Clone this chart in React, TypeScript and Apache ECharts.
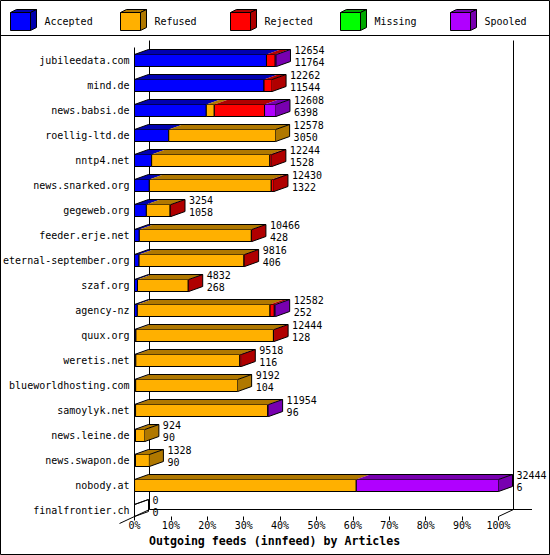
import React, { useEffect, useRef } from "react";
import * as echarts from "echarts";

const hosts = [
  "jubileedata.com", "mind.de", "news.babsi.de", "roellig-ltd.de", "nntp4.net",
  "news.snarked.org", "gegeweb.org", "feeder.erje.net", "eternal-september.org", "szaf.org",
  "agency-nz", "quux.org", "weretis.net", "blueworldhosting.com", "samoylyk.net",
  "news.leine.de", "news.swapon.de", "nobody.at", "finalfrontier.ch",
];
const offered = [12654, 12262, 12608, 12578, 12244, 12430, 3254, 10466, 9816, 4832, 12582, 12444, 9518, 9192, 11954, 924, 1328, 32444, 0];
const accepted = [11764, 11544, 6398, 3050, 1528, 1322, 1058, 428, 406, 268, 252, 128, 116, 104, 96, 90, 90, 6, 0];
const refused = [0, 0, 713, 9528, 10536, 10868, 2116, 9988, 9350, 4524, 11827, 12256, 9272, 9088, 11778, 834, 1238, 19760, 0];
const rejected = [780, 718, 4481, 0, 180, 240, 80, 50, 60, 40, 383, 60, 130, 0, 0, 0, 0, 0, 0];
const missing = [0, 0, 0, 0, 0, 0, 0, 0, 0, 0, 0, 0, 0, 0, 0, 0, 0, 0, 0];
const spooled = [110, 0, 1016, 0, 0, 0, 0, 0, 0, 0, 120, 0, 0, 0, 80, 0, 0, 12678, 0];

const seriesNames = ["Accepted", "Refused", "Rejected", "Missing", "Spooled"];
const frontColors = ["#0000ff", "#ffb000", "#ff0000", "#00ff00", "#b000ff"];
const darkColors = ["#0000b0", "#b07800", "#b00000", "#00a800", "#7800b0"];

const MONO = "'DejaVu Sans Mono', monospace";

export default function App() {
  const ref = useRef<HTMLDivElement>(null);
  useEffect(() => {
    document.body.style.margin = "0";
    const chart = echarts.init(ref.current!, null, { renderer: "svg" });
    const maxTotal = Math.max(...offered);
    const pct = (v: number) => (v / maxTotal) * 100;
    const counts = [accepted, refused, rejected, missing, spooled];
    const data = hosts.map((h, i) => [
      i,
      ...counts.map((arr) => pct(arr[i])),
      offered[i],
      accepted[i],
    ]);

    const GL = 134.5, GR = 498.5, GT = 48, GH = 475;
    const FLOOR = 516.5, FDX = 15, FDY = 7;
    const BACK_TOP = 40.5;
    const ln = (x1: number, y1: number, x2: number, y2: number) => ({
      type: "line",
      shape: { x1, y1, x2, y2 },
      style: { stroke: "#000", lineWidth: 1 },
      silent: true,
    });

    const graphics: any[] = [
      { type: "rect", shape: { x: 0.5, y: 0.5, width: 549, height: 554 }, style: { fill: "none", stroke: "#000", lineWidth: 1 } },
      ln(0, 35.5, 550, 35.5),
      // frame
      ln(GL, BACK_TOP + FDY, GL, FLOOR),
      ln(GL + FDX, BACK_TOP, GL + FDX, FLOOR - FDY),
      ln(GR + FDX, BACK_TOP, GR + FDX, FLOOR - FDY),
      ln(GL + FDX, FLOOR - FDY, 532, FLOOR - FDY),
      ln(GL - FDX, FLOOR + FDY, GL + FDX, FLOOR - FDY),
      ln(GR, FLOOR, GR + FDX, FLOOR - FDY),
    ];
    seriesNames.forEach((name, k) => {
      const bx = 10.5 + 110 * k;
      graphics.push(
        { type: "polygon", shape: { points: [[bx, 12.5], [bx + 6, 9.5], [bx + 26, 9.5], [bx + 20, 12.5]] }, style: { fill: darkColors[k], stroke: "#000", lineWidth: 1 } },
        { type: "polygon", shape: { points: [[bx + 20, 12.5], [bx + 26, 9.5], [bx + 26, 27.5], [bx + 20, 30.5]] }, style: { fill: darkColors[k], stroke: "#000", lineWidth: 1 } },
        { type: "rect", shape: { x: bx, y: 12.5, width: 20, height: 18 }, style: { fill: frontColors[k], stroke: "#000", lineWidth: 1 } },
        { type: "text", x: bx + 34, y: 21, style: { text: name, fill: "#000", font: `10px ${MONO}`, textVerticalAlign: "middle" } }
      );
    });

    const DX = 14, DY = 5, BH = 12;
    const renderItem = (params: any, api: any) => {
      const idx = api.value(0);
      const c = api.coord([0, idx]);
      const cy = c[1];
      const yTop = cy - BH / 2, yBot = cy + BH / 2;
      const x0 = c[0];
      const children: any[] = [];
      const tops: any[] = [];
      let cum = 0;
      let lastK = -1;
      for (let k = 0; k < 5; k++) {
        const v = api.value(k + 1);
        if (v <= 0) continue;
        const xa = api.coord([cum, idx])[0];
        const xb = api.coord([cum + v, idx])[0];
        children.push({
          type: "rect",
          shape: { x: xa, y: yTop, width: xb - xa, height: BH },
          style: { fill: frontColors[k], stroke: "#000", lineWidth: 1 },
        });
        tops.push({
          type: "polygon",
          shape: { points: [[xa, yTop], [xa + DX, yTop - DY], [xb + DX, yTop - DY], [xb, yTop]] },
          style: { fill: darkColors[k], stroke: "none" },
        });
        cum += v;
        lastK = k;
      }
      const xe = api.coord([cum, idx])[0];
      children.push(...tops);
      if (lastK >= 0) {
        children.push({
          type: "polygon",
          shape: { points: [[xe, yTop], [xe + DX, yTop - DY], [xe + DX, yBot - DY], [xe, yBot]] },
          style: { fill: darkColors[lastK], stroke: "none" },
        });
      }
      children.push({
        type: "polyline",
        shape: { points: [[x0, yTop], [x0 + DX, yTop - DY], [xe + DX, yTop - DY], [xe + DX, yBot - DY], [xe, yBot]] },
        style: { fill: "none", stroke: "#000", lineWidth: 1 },
      });
      children.push({
        type: "line",
        shape: { x1: xe, y1: yTop, x2: xe + DX, y2: yTop - DY },
        style: { stroke: "#000", lineWidth: 1 },
      });
      const tx = xe + DX + 4;
      children.push(
        { type: "text", x: tx, y: cy - 10, style: { text: String(api.value(6)), fill: "#000", font: `10px ${MONO}`, textVerticalAlign: "middle" } },
        { type: "text", x: tx, y: cy + 1.5, style: { text: String(api.value(7)), fill: "#000", font: `10px ${MONO}`, textVerticalAlign: "middle" } }
      );
      return { type: "group", children };
    };

    chart.setOption({
      animation: false,
      backgroundColor: "#fff",
      title: {
        text: "Outgoing feeds (innfeed) by Articles",
        left: 149,
        top: 534,
        padding: 0,
        textStyle: { fontFamily: MONO, fontSize: 11.6, fontWeight: "bold", color: "#000", lineHeight: 14 },
      },
      grid: { left: GL, right: 550 - GR, top: GT, height: GH, containLabel: false },
      xAxis: {
        type: "value",
        min: 0,
        max: 100,
        interval: 10,
        offset: -(GT + GH - FLOOR),
        axisLine: { show: false },
        axisTick: { show: true, length: 4, lineStyle: { color: "#000", width: 1 } },
        splitLine: { show: false },
        axisLabel: { formatter: "{value}%", color: "#000", fontFamily: MONO, fontSize: 10, margin: 4 },
      },
      yAxis: {
        type: "category",
        data: hosts,
        inverse: true,
        axisLine: { show: false },
        axisTick: { show: false },
        splitLine: { show: false },
        axisLabel: { color: "#000", fontFamily: MONO, fontSize: 10, margin: 5 },
      },
      graphic: { elements: graphics },
      series: [
        {
          type: "custom",
          renderItem,
          data,
          encode: { x: [1, 2, 3, 4, 5], y: 0 },
          z: 5,
        },
      ],
    });
    return () => chart.dispose();
  }, []);
  return <div ref={ref} style={{ width: 550, height: 555 }} />;
}
